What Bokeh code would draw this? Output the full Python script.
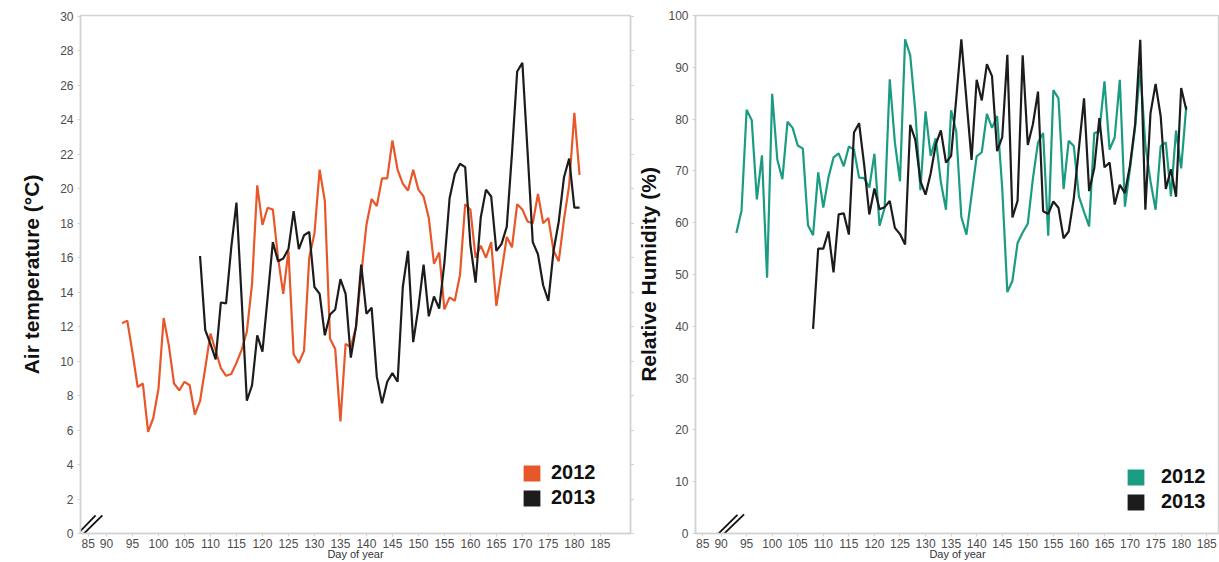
from bokeh.plotting import figure
from bokeh.layouts import row
from bokeh.models import FixedTicker, LinearAxis, Legend, LegendItem, Range1d
from bokeh.embed import file_html
from bokeh.resources import INLINE

# ---------------- data ----------------
days_2012 = list(range(93, 182))
days_2013 = list(range(108, 182))

temp_2012 = [12.2, 12.35, 10.5, 8.5, 8.7, 5.9, 6.7, 8.4, 12.5, 10.9,
             8.7, 8.3, 8.8, 8.6, 6.9, 7.7, 9.6, 11.6, 10.6, 9.6,
             9.15, 9.25, 9.9, 10.65, 11.7, 14.5, 20.2, 17.9, 18.9, 18.8,
             16.0, 13.9, 16.4, 10.4, 9.9, 10.6, 16.0, 17.4, 21.1, 19.3,
             11.3, 10.7, 6.5, 11.0, 10.8, 12.0, 15.0, 17.9, 19.4, 19.0,
             20.6, 20.6, 22.8, 21.1, 20.3, 19.9, 21.1, 19.95, 19.55, 18.3,
             15.65, 16.3, 13.0, 13.7, 13.5, 15.0, 19.1, 18.8, 16.0, 16.7,
             16.0, 16.9, 13.2, 15.2, 17.2, 16.6, 19.1, 18.8, 18.1, 18.0,
             19.7, 18.0, 18.3, 16.4, 15.8, 18.2, 20.2, 24.4, 20.8]

temp_2013 = [16.1, 11.8, 11.0, 10.1, 13.4, 13.35, 16.6, 19.2, 13.6, 7.7,
             8.6, 11.5, 10.55, 13.7, 16.9, 15.8, 15.95, 16.5, 18.7, 16.5,
             17.3, 17.5, 14.3, 13.9, 11.5, 12.7, 13.0, 14.75, 13.9, 10.2,
             12.0, 15.6, 12.75, 13.1, 9.1, 7.55, 8.8, 9.3, 8.8, 14.3,
             16.4, 11.1, 13.1, 15.6, 12.6, 13.75, 13.05, 15.7, 19.45, 20.85,
             21.45, 21.25, 16.75, 14.55, 18.35, 19.95, 19.55, 16.4, 16.8, 17.8,
             22.05, 26.8, 27.3, 22.15, 16.9, 16.2, 14.4, 13.5, 16.4, 18.1,
             20.65, 21.75, 18.9, 18.9]

rh_2012 = [58.0, 62.3, 81.8, 79.8, 64.5, 73.0, 49.4, 84.9, 72.2, 68.4,
           79.5, 78.3, 74.9, 74.3, 59.5, 57.6, 69.7, 62.9, 68.7, 72.6,
           73.4, 70.9, 74.7, 74.1, 68.7, 68.6, 66.8, 73.3, 59.4, 62.9,
           87.7, 75.5, 68.0, 95.4, 92.3, 81.5, 66.3, 81.5, 72.9, 76.3,
           67.8, 62.5, 81.7, 77.6, 61.1, 57.7, 65.3, 72.8, 73.6, 81.0,
           78.3, 80.6, 66.6, 46.6, 48.8, 56.1, 58.1, 59.8, 68.5, 75.5,
           77.3, 57.5, 85.6, 84.0, 66.5, 75.8, 74.8, 65.1, 62.1, 59.3,
           77.3, 77.6, 87.3, 74.1, 76.5, 87.6, 63.1, 70.5, 78.5, 89.8,
           75.0, 68.0, 62.5, 74.8, 75.5, 65.1, 77.8, 70.5, 82.5]

rh_2013 = [39.5, 55.0, 55.0, 58.3, 50.4, 61.6, 61.8, 57.7, 77.4, 79.2,
           71.1, 61.6, 66.6, 62.6, 63.0, 64.2, 59.0, 57.8, 55.8, 78.9,
           76.0, 68.0, 65.4, 69.5, 75.1, 77.8, 71.6, 72.9, 83.9, 95.4,
           83.7, 72.1, 87.6, 83.6, 90.6, 88.3, 73.8, 76.5, 92.4, 61.0,
           64.2, 92.3, 75.0, 79.0, 85.3, 62.2, 61.7, 64.1, 62.9, 57.0,
           58.3, 64.7, 74.4, 84.0, 66.1, 70.5, 80.2, 70.7, 71.6, 63.5,
           67.3, 65.7, 71.1, 79.0, 95.3, 62.5, 81.1, 86.8, 80.5, 66.5,
           70.3, 65.0, 86.0, 81.8]

x_ticks = list(range(90, 186, 5))
x_first_label = "85"          # first day label, drawn just right of the broken axis
temp_ticks = list(range(0, 31, 2))
rh_ticks = list(range(0, 101, 10))
series_labels = ["2012", "2013"]

# axis-break marks ("//"), in data units
brk_temp_x0 = [83.9, 85.0]
brk_temp_x1 = [87.9, 89.2]
brk_temp_y0 = [-0.2, -0.2]
brk_temp_y1 = [1.05, 1.05]
brk_rh_x0 = [89.0, 90.1]
brk_rh_x1 = [93.2, 94.5]
brk_rh_y0 = [-0.5, -0.5]
brk_rh_y1 = [3.6, 3.7]

ORANGE = "#E8572A"
TEAL = "#1B9C82"
BLACK = "#1c1c1c"
GRID_GREY = "#d2d2d2"
FONT = "Liberation Sans"
NAN = float("nan")


def make_fig(width, x_end, y_end, yticks, ylabel, min_left, min_right, ylabel_standoff, first_tick):
    p = figure(width=width, height=562,
               x_range=Range1d(85, x_end), y_range=Range1d(0, y_end),
               output_backend="svg", toolbar_location=None,
               min_border_left=min_left, min_border_right=min_right,
               min_border_top=15, min_border_bottom=28)
    p.grid.visible = False
    p.outline_line_color = GRID_GREY
    p.outline_line_width = 1.5
    p.background_fill_color = "white"
    p.border_fill_color = "white"

    for ax in (p.xaxis[0], p.yaxis[0]):
        ax.axis_line_color = GRID_GREY
        ax.axis_line_width = 1.5
        ax.major_tick_line_color = GRID_GREY
        ax.major_tick_out = 3
        ax.major_tick_in = 0
        ax.minor_tick_line_color = None
        ax.major_label_text_font = FONT
        ax.major_label_text_font_size = "12px"
        ax.major_label_text_color = "#4d4d4d"

    p.xaxis[0].ticker = FixedTicker(ticks=[first_tick] + x_ticks)
    p.xaxis[0].major_label_overrides = {first_tick: x_first_label}
    p.xaxis[0].major_label_standoff = 2
    p.xaxis[0].axis_label = "Day of year"
    p.xaxis[0].axis_label_text_font = FONT
    p.xaxis[0].axis_label_text_font_size = "11px"
    p.xaxis[0].axis_label_text_font_style = "normal"
    p.xaxis[0].axis_label_text_color = "#333333"
    p.xaxis[0].axis_label_standoff = -3

    p.yaxis[0].ticker = FixedTicker(ticks=yticks)
    p.yaxis[0].major_label_standoff = 4
    p.yaxis[0].axis_label = ylabel
    p.yaxis[0].axis_label_text_font = FONT
    p.yaxis[0].axis_label_text_font_size = "21px"
    p.yaxis[0].axis_label_text_font_style = "bold"
    p.yaxis[0].axis_label_text_color = "#111111"
    p.yaxis[0].axis_label_standoff = ylabel_standoff
    return p


def add_legend(p, colors, offset, standoff):
    proxies = []
    for c in colors:
        proxies.append(p.quad(left=[NAN], right=[NAN], top=[NAN], bottom=[NAN],
                              fill_color=c, line_color=None))
    items = [LegendItem(label=lab, renderers=[r]) for lab, r in zip(series_labels, proxies)]
    leg = Legend(items=items, location=offset, orientation="vertical",
                 glyph_width=21, glyph_height=20, label_standoff=standoff, spacing=2,
                 padding=0, margin=0, border_line_alpha=0, background_fill_alpha=0,
                 label_text_font=FONT, label_text_font_style="bold",
                 label_text_font_size="20px", label_text_color="#111111",
                 label_height=20)
    p.add_layout(leg)


# ---------------- left: air temperature ----------------
p1 = make_fig(634, 190.8, 30.05, temp_ticks, "Air temperature (°C)", 80, 3, 14, 86.5)
right_ax = LinearAxis(ticker=FixedTicker(ticks=temp_ticks), major_label_text_font_size="1px",
                      major_label_text_color=None,
                      major_label_standoff=0, major_tick_out=4, major_tick_in=0,
                      major_tick_line_color=GRID_GREY, axis_line_color=GRID_GREY,
                      axis_line_width=1.5, minor_tick_line_color=None)
p1.add_layout(right_ax, "right")
p1.line(days_2012, temp_2012, line_color=ORANGE, line_width=2.2)
p1.line(days_2013, temp_2013, line_color=BLACK, line_width=2.2)
p1.segment(x0=brk_temp_x0, y0=brk_temp_y0, x1=brk_temp_x1, y1=brk_temp_y1,
           line_color="#111111", line_width=1.8)
add_legend(p1, [ORANGE, BLACK], (441, 24), 9)

# ---------------- right: relative humidity ----------------
p2 = make_fig(585, 187.5, 100.0, rh_ticks, "Relative Humidity (%)", 58, 0, 5, 86.4)
p2.line(days_2012, rh_2012, line_color=TEAL, line_width=2.2)
p2.line(days_2013, rh_2013, line_color=BLACK, line_width=2.2)
p2.segment(x0=brk_rh_x0, y0=brk_rh_y0, x1=brk_rh_x1, y1=brk_rh_y1,
           line_color="#111111", line_width=1.8)
add_legend(p2, [TEAL, BLACK], (430, 20), 15)

layout = row(p1, p2, spacing=0)

with open("out.html", "w") as f:
    f.write(file_html(layout, INLINE))
